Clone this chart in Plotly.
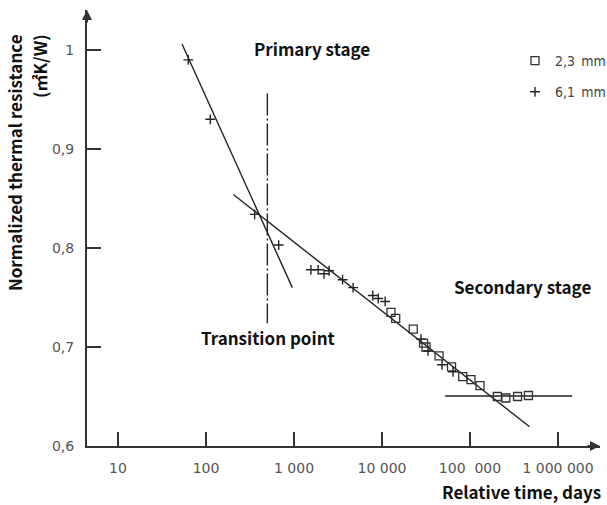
import plotly.graph_objects as go

# ---- data ----
sq_x = [12650, 14310, 22650, 29650, 31620, 44460, 61660, 82640, 102600, 129900,
        204600, 255200, 346700, 461300]
sq_y = [0.735, 0.729, 0.718, 0.704, 0.700, 0.691, 0.680, 0.670, 0.667, 0.661,
        0.650, 0.6485, 0.650, 0.651]

cr_x = [63, 112, 357, 670, 1556, 1884, 2193, 2506, 3565, 4700, 7850, 9060, 10870,
        27730, 33340, 48080, 64140]
cr_y = [0.990, 0.930, 0.834, 0.803, 0.778, 0.778, 0.774, 0.777, 0.768, 0.760,
        0.752, 0.749, 0.746, 0.708, 0.696, 0.682, 0.675]

primary_x = [53.4, 957]
primary_y = [1.006, 0.760]
secondary_x = [204.7, 475000]
secondary_y = [0.854, 0.6195]
plateau_x = [52240, 1449000]
plateau_y = [0.6505, 0.6505]
transition_x = [498, 498]
transition_y = [0.956, 0.724]

x_tickvals = [10, 100, 1000, 10000, 100000, 1000000]
x_ticktext = ["10", "100", "1 000", "10 000", "100\u00a0 000", "1 000 000"]
y_tickvals = [0.6, 0.7, 0.8, 0.9, 1.0]
y_ticktext = ["0,6", "0,7", "0,8", "0,9", "1"]

series_names = ["2,3\u2002mm", "6,1\u2002mm"]

INK = "#222222"
AX = "#333333"

fig = go.Figure()

for xs, ys in [(primary_x, primary_y), (secondary_x, secondary_y), (plateau_x, plateau_y)]:
    fig.add_trace(go.Scatter(x=xs, y=ys, mode="lines", showlegend=False,
                             line=dict(color=INK, width=1.4), hoverinfo="skip"))
fig.add_trace(go.Scatter(x=transition_x, y=transition_y, mode="lines", showlegend=False,
                         line=dict(color=INK, width=1.4, dash="22px,3px,2px,3px"),
                         hoverinfo="skip"))

fig.add_trace(go.Scatter(x=sq_x, y=sq_y, mode="markers", name=series_names[0],
                         legendgroup="a",
                         marker=dict(symbol="square-open", size=8, color="#333",
                                     line=dict(width=1.3, color="#333"))))
fig.add_trace(go.Scatter(x=cr_x, y=cr_y, mode="markers", name=series_names[1],
                         legendgroup="b",
                         marker=dict(symbol="cross-thin-open", size=7, color="#222",
                                     line=dict(width=1.4, color="#222"))))

L, R, T, B = 87, 7, 10, 59
W, H = 607, 505
pw, ph = W - L - R, H - T - B

def px(x):
    return (x - L) / pw

def py(y):
    return (H - B - y) / ph

bold = dict(family="Noto Sans CJK KR", size=17, color="#111")
bold_y = dict(family="Noto Sans CJK KR", size=17, color="#111")

def label(text, x, y, font, angle=0, xanchor="center"):
    return dict(text=text, x=px(x), y=py(y), xref="paper", yref="paper",
                xanchor=xanchor, yanchor="middle", textangle=angle,
                showarrow=False, font=font)

annotations = [
    label("<b>Primary stage</b>", 312, 48, bold),
    label("<b>Transition point</b>", 268, 338, bold),
    label("<b>Secondary stage</b>", 522, 286, bold),
    label("<b>Relative time, days</b>", 603, 492, bold, xanchor="right"),
    label("<b>Normalized thermal resistance</b>", 15, 163, bold_y, angle=-90),
    label("<b>(\u33a1K/W)</b>", 39, 66, bold_y, angle=-90),
    # axis arrows
    dict(x=1, y=0, xref="paper", yref="paper", ax=-14, ay=0, text="", showarrow=True,
         arrowhead=2, arrowsize=1, arrowwidth=2, arrowcolor=AX),
    dict(x=0, y=1, xref="paper", yref="paper", ax=0, ay=14, text="", showarrow=True,
         arrowhead=2, arrowsize=1, arrowwidth=2, arrowcolor=AX),
]

fig.update_layout(
    width=W, height=H,
    margin=dict(l=L, r=R, t=T, b=B, autoexpand=False),
    paper_bgcolor="white", plot_bgcolor="white",
    annotations=annotations,
    showlegend=True,
    legend=dict(x=px(515), y=py(45), xanchor="left", yanchor="top",
                font=dict(family="DejaVu Sans Condensed", size=14, color="#444"),
                bgcolor="rgba(0,0,0,0)", traceorder="grouped", tracegroupgap=10),
    xaxis=dict(type="log", range=[0.648, 6.477], tickvals=x_tickvals, ticktext=x_ticktext,
               ticks="inside", ticklen=14, tickwidth=2, tickcolor=AX,
               showline=True, linecolor=AX, linewidth=2, showgrid=False, zeroline=False,
               tickfont=dict(family="DejaVu Sans", size=14, color="#555"),
               ticklabelstandoff=8, automargin=False),
    yaxis=dict(range=[0.6, 0.6 + (H - B - T) / 990], tickvals=y_tickvals, ticktext=y_ticktext,
               ticks="inside", ticklen=14, tickwidth=2, tickcolor=AX,
               showline=True, linecolor=AX, linewidth=2, showgrid=False, zeroline=False,
               tickfont=dict(family="DejaVu Sans", size=14, color="#555"),
               ticklabelstandoff=8, automargin=False),
)

fig.write_html("out.html")
